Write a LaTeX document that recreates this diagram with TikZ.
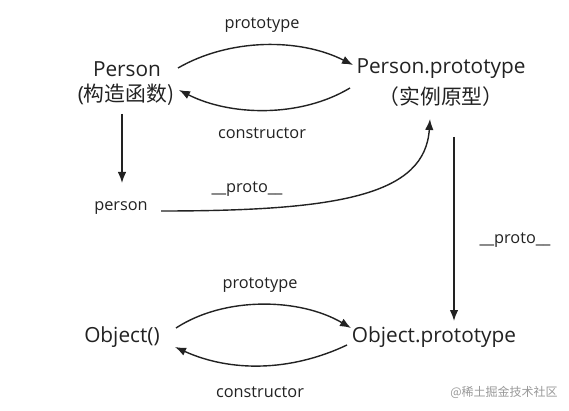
\documentclass[tikz,border=0pt]{standalone}
\usepackage{fontspec}
\setmainfont{Open Sans}
\newfontfamily\cjk{Noto Sans CJK SC}
\usetikzlibrary{arrows.meta}
\definecolor{ink}{HTML}{222222}
\begin{document}
\begin{tikzpicture}[x=1pt,y=-1pt,
  big/.style={font=\fontsize{20.8}{24}\selectfont, text=ink, inner sep=0pt},
  lbl/.style={font=\fontsize{16.3}{18}\selectfont, text=ink, inner sep=0pt},
  arr/.style={draw=ink, line width=1.4pt, -{Latex[length=11pt,width=8.5pt]}},
  plain/.style={draw=ink, line width=1.4pt}]
\useasboundingbox (0,0) rectangle (569,411);
\fill[white] (0,0) rectangle (569,411);
% nodes
\node[big] (P) at (127,69) {Person};
\node[big] (Pc) at (126,95) {(\cjk 构造函数\/)};
\node[big] (PP) at (441,69) {Person.prototype};
\node[big] (PPc) at (441,97) {\cjk （实例原型）};
\node[lbl] (pers) at (121,208) {person};
\node[big] (O) at (122,337) {Object()};
\node[big] (OP) at (434,337) {Object.prototype};
% labels
\node[lbl] (l1) at (262,25) {prototype};
\node[lbl] (l2) at (262,133) {constructor};
\node[lbl] (l3) at (247,189) {\_\_proto\_\_};
\node[lbl] (l4) at (515,240) {\_\_proto\_\_};
\node[lbl] (l5) at (260,285) {prototype};
\node[lbl] (l6) at (260,392) {constructor};
\node[font=\cjk\fontsize{12}{14}\selectfont, text=black!40, inner sep=0pt] (wm) at (504,392) {@稀土掘金技术社区};
% coordinates
\coordinate (a1) at (178,68);
\coordinate (a2) at (353,65);
\coordinate (b1) at (350,88);
\coordinate (b2) at (179,90);
\coordinate (c1) at (122,114);
\coordinate (c2) at (122,183);
\coordinate (d1) at (161,211);
\coordinate (d2) at (430,119);
\coordinate (e1) at (454,137);
\coordinate (e2) at (454,321);
\coordinate (f1) at (176,328);
\coordinate (f2) at (351,328);
\coordinate (g1) at (347,345);
\coordinate (g2) at (175,347);
% connectors
\draw[arr] (a1) .. controls (230,38) and (300,38) .. (a2);
\draw[arr] (b1) .. controls (300,118) and (230,116) .. (b2);
\draw[arr] (c1) -- (c2);
\draw[arr] (d1) .. controls (340,211) and (425,195) .. (d2);
\draw[arr] (e1) -- (e2);
\draw[arr] (f1) .. controls (225,296) and (300,298) .. (f2);
\draw[arr] (g1) .. controls (290,372) and (230,372) .. (g2);
\end{tikzpicture}
\end{document}
